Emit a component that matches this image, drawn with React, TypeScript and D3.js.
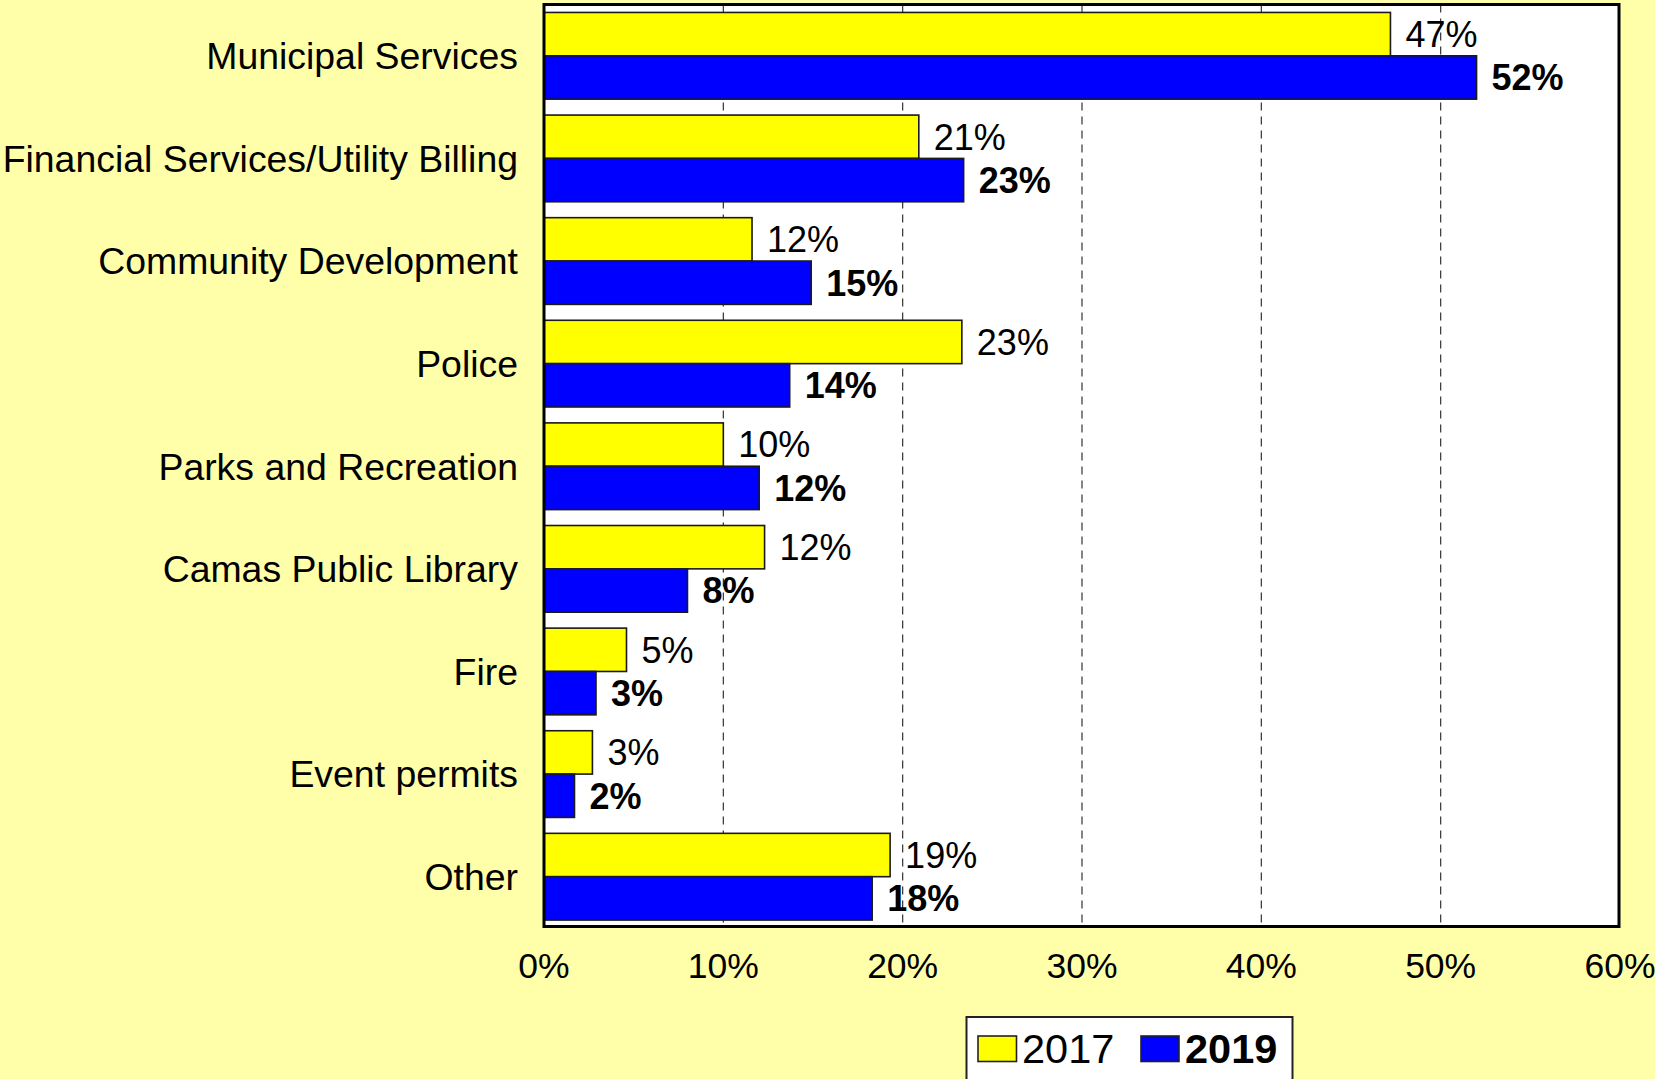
import React from "react";
import * as d3 from "d3";

const categories = [
  "Municipal Services",
  "Financial Services/Utility Billing",
  "Community Development",
  "Police",
  "Parks and Recreation",
  "Camas Public Library",
  "Fire",
  "Event permits",
  "Other",
];
const values2017 = [47.2, 20.9, 11.6, 23.3, 10.0, 12.3, 4.6, 2.7, 19.3];
const values2019 = [52.0, 23.4, 14.9, 13.7, 12.0, 8.0, 2.9, 1.7, 18.3];
const seriesNames = ["2017", "2019"];
const seriesColors = ["#FFFF00", "#0000FF"];
const xTicks = [0, 10, 20, 30, 40, 50, 60];

const W = 1655;
const H = 1079;
const FONT = "'Liberation Sans', Arial, Helvetica, sans-serif";

export default function App() {
  const x = d3.scaleLinear().domain([0, 60]).range([544, 1620]);
  const y = d3
    .scaleBand<string>()
    .domain(categories)
    .range([4.5, 928])
    .paddingInner(0.155)
    .paddingOuter(0.0775);
  const sub = d3
    .scaleBand<string>()
    .domain(seriesNames)
    .range([0, y.bandwidth()]);
  const series = [values2017, values2019];

  return (
    <div style={{ position: "fixed", left: 0, top: 0, width: W, height: H }}>
      <svg width={W} height={H} style={{ display: "block" }} fontFamily={FONT}>
        <rect x={0} y={0} width={W} height={H} fill="#FFFFAA" />
        {/* plot area */}
        <rect x={x(0)} y={4.5} width={x(60) - x(0)} height={922} fill="#FFFFFF" />
        {/* gridlines */}
        {xTicks
          .filter((t) => t > 0 && t < 60)
          .map((t) => (
            <line
              key={"g" + t}
              x1={x(t)}
              x2={x(t)}
              y1={4.5}
              y2={926.5}
              stroke="#333"
              strokeWidth={1.2}
              strokeDasharray="8,6"
            />
          ))}
        {/* bars */}
        {categories.map((c, i) =>
          series.map((vals, s) => {
            const y0 = (y(c) as number) + (sub(seriesNames[s]) as number);
            const h = sub.bandwidth();
            return (
              <g key={c + s}>
                <rect
                  x={x(0)}
                  y={y0}
                  width={x(vals[i]) - x(0)}
                  height={h}
                  fill={seriesColors[s]}
                  stroke="#1a1a1a"
                  strokeWidth={1.6}
                />
                <text
                  x={x(vals[i]) + 15}
                  y={y0 + h / 2 + 12.8}
                  fontSize={36}
                  fontWeight={s === 1 ? "bold" : "normal"}
                  fill="#000"
                >
                  {Math.round(vals[i]) + "%"}
                </text>
              </g>
            );
          })
        )}
        {/* frame */}
        <rect
          x={x(0)}
          y={4.5}
          width={x(60) - x(0) - 1}
          height={922}
          fill="none"
          stroke="#000"
          strokeWidth={3}
        />
        {/* category labels */}
        {categories.map((c) => (
          <text
            key={"l" + c}
            x={518}
            y={(y(c) as number) + y.bandwidth() / 2 + 13.4}
            fontSize={37.4}
            textAnchor="end"
            fill="#000"
          >
            {c}
          </text>
        ))}
        {/* x tick labels */}
        {xTicks.map((t) => (
          <text
            key={"t" + t}
            x={x(t)}
            y={978}
            fontSize={35.5}
            textAnchor="middle"
            fill="#000"
          >
            {t + "%"}
          </text>
        ))}
        {/* legend */}
        <rect x={966.5} y={1017} width={326} height={80} fill="#FFFFFF" stroke="#222" strokeWidth={2} />
        <rect x={978} y={1036} width={38.5} height={25.5} fill={seriesColors[0]} stroke="#222" strokeWidth={1.6} />
        <text x={1022} y={1063} fontSize={41.5} fill="#000">
          {seriesNames[0]}
        </text>
        <rect x={1141} y={1036} width={38} height={25.5} fill={seriesColors[1]} stroke="#222" strokeWidth={1.6} />
        <text x={1185} y={1063} fontSize={41.5} fontWeight="bold" fill="#000">
          {seriesNames[1]}
        </text>
      </svg>
    </div>
  );
}
